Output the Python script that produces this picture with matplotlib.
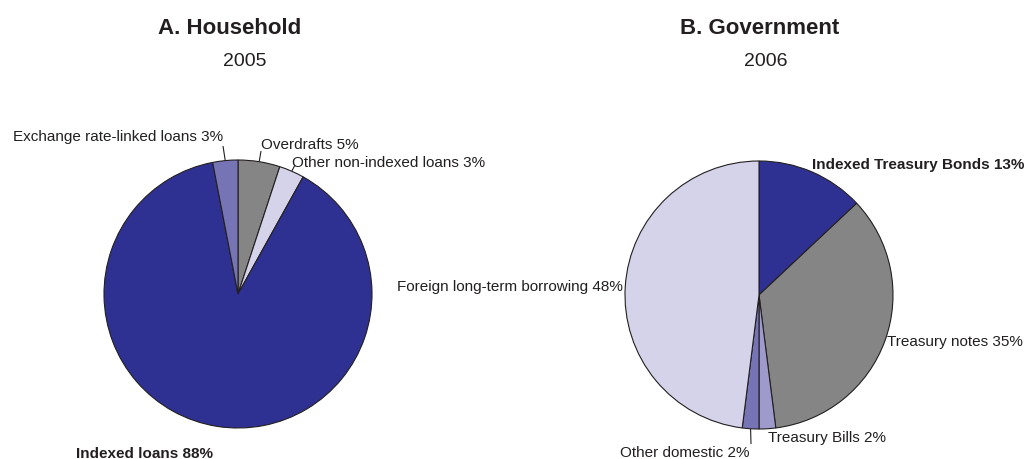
import numpy as np
import matplotlib
matplotlib.use("Agg")
import matplotlib.pyplot as plt

plt.rcParams['font.family'] = ['Liberation Sans', 'DejaVu Sans']

# Panel A: household debt composition, 2005 (clockwise from 12 o'clock)
hh_labels = ["Overdrafts 5%", "Other non-indexed loans 3%", "Indexed loans 88%",
             "Exchange rate-linked loans 3%"]
hh_values = [5, 3, 88, 3]
hh_colors = ["#858585", "#d5d3ea", "#2e3192", "#7674b5"]

# Panel B: government debt composition, 2006 (clockwise from 12 o'clock)
gov_labels = ["Indexed Treasury Bonds 13%", "Treasury notes 35%", "Treasury Bills 2%",
              "Other domestic 2%", "Foreign long-term borrowing 48%"]
gov_values = [13, 35, 2, 2, 48]
gov_colors = ["#2e3192", "#858585", "#9e9acb", "#7674b5", "#d5d3ea"]

W, H = 1026, 460
fig = plt.figure(figsize=(W / 100, H / 100), dpi=100)
ax = fig.add_axes([0, 0, 1, 1])

TXT = "#231f20"
R = 134
cA = (238, H - 295)
cB = (759, H - 296)


def draw_pie(values, colors, center):
    ax.pie(values, colors=colors, startangle=90, counterclock=False,
           center=center, radius=R,
           wedgeprops=dict(edgecolor=TXT, linewidth=0.8))
    tot = float(sum(values))
    cum = np.cumsum([0] + list(values)) / tot
    mids = 90 - 360 * (cum[:-1] + cum[1:]) / 2
    return mids


def edge_point(center, ang):
    a = np.deg2rad(ang)
    return center[0] + R * np.cos(a), center[1] + R * np.sin(a)


def label(text, x, y, ha="left", bold=False):
    ax.text(x, H - y, text, ha=ha, va="center", fontsize=11, color=TXT,
            fontweight="bold" if bold else "normal")


def leader(center, ang, x_end, y_end):
    x0, y0 = edge_point(center, ang)
    ax.plot([x0, x_end], [y0, H - y_end], color=TXT, lw=0.8,
            solid_capstyle="butt")


# ---- Panel A ----
mA = draw_pie(hh_values, hh_colors, cA)
label(hh_labels[0], 261, 145)
leader(cA, mA[0], 261, 152)
label(hh_labels[1], 292, 163)
leader(cA, mA[1], 295, 166)
label(hh_labels[2], 76, 454, bold=True)
label(hh_labels[3], 223, 137, ha="right")
leader(cA, mA[3], 223, 147)

# ---- Panel B ----
mB = draw_pie(gov_values, gov_colors, cB)
label(gov_labels[0], 812, 165, bold=True)
label(gov_labels[1], 887, 342)
label(gov_labels[2], 768, 438)
label(gov_labels[3], 620, 453)
leader(cB, mB[3], 751, 445)
label(gov_labels[4], 623, 287, ha="right")

# ---- Titles ----
ax.text(230, H - 28, "A. Household", ha="center", va="center",
        fontsize=16, fontweight="bold", color=TXT)
ax.text(245, H - 62, "2005", ha="center", va="center", fontsize=14, color=TXT)
ax.text(760, H - 28, "B. Government", ha="center", va="center",
        fontsize=16, fontweight="bold", color=TXT)
ax.text(766, H - 62, "2006", ha="center", va="center", fontsize=14, color=TXT)

ax.set_xlim(0, W)
ax.set_ylim(0, H)
ax.set_aspect("equal", adjustable="datalim")
ax.axis("off")

fig.savefig("out.png", dpi=100, facecolor="white")
